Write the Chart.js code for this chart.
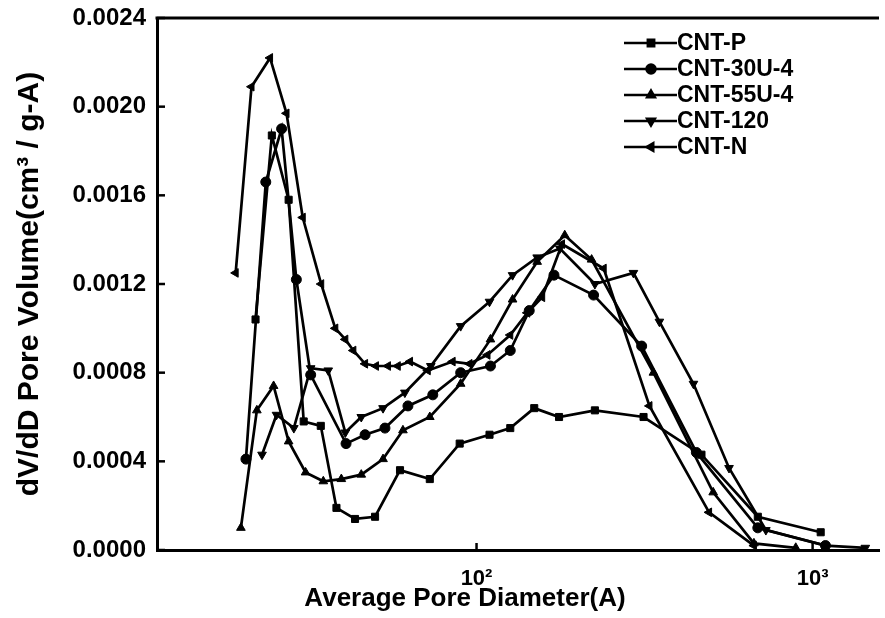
<!DOCTYPE html>
<html lang="en">
<head>
  <meta charset="UTF-8">
  <title>Pore Size Distribution</title>
  <script src="https://cdn.jsdelivr.net/npm/chart.js"></script>
  <style>
    body { margin: 0; background: #ffffff; }
    #wrap { width: 885px; height: 618px; }
  </style>
</head>
<body>
  <div id="wrap"><canvas id="poreChart" width="885" height="618"></canvas></div>

  <script>
    // data (x = average pore diameter in A, y = dV/dD)
    const seriesNames = ["CNT-P", "CNT-30U-4", "CNT-55U-4", "CNT-120", "CNT-N"];
    const markerStyles = ["rect", "circle", "triangle", "triangle", "triangle"];
    const markerRotation = [0, 0, 0, 180, 270];

    const pX = [22.0, 24.6, 27.6, 30.6, 34.4, 38.3, 43.5, 49.9, 59.2, 72.6, 89.1, 109.3, 126, 148.5, 176, 225, 314, 467, 687, 1057];
    const pY = [0.00104, 0.00187, 0.00158, 0.00058, 0.00056, 0.00019, 0.00014, 0.00015, 0.00036, 0.00032, 0.00048, 0.00052, 0.00055, 0.00064, 0.0006, 0.00063, 0.0006, 0.00043, 0.00015, 0.00008];

    const u30X = [20.6, 23.6, 26.3, 29.1, 32.1, 40.9, 46.6, 53.4, 62.5, 74.1, 89.7, 110, 126, 143.5, 170, 223, 310, 451, 687, 1092];
    const u30Y = [0.00041, 0.00166, 0.0019, 0.00122, 0.00079, 0.00048, 0.00052, 0.00055, 0.00065, 0.0007, 0.0008, 0.00083, 0.0009, 0.00108, 0.00124, 0.00115, 0.00092, 0.00044, 0.0001, 0.00002];

    const u55X = [19.9, 22.2, 24.9, 27.6, 31.0, 35.0, 39.6, 45.4, 52.7, 60.4, 72.6, 89.7, 110, 128, 151.5, 183, 220, 336, 506, 669, 891];
    const u55Y = [0.0001, 0.00063, 0.00074, 0.00049, 0.00035, 0.00031, 0.00032, 0.00034, 0.00041, 0.00054, 0.0006, 0.00075, 0.00095, 0.00113, 0.0013, 0.00142, 0.00131, 0.0008, 0.00026, 0.00003, 0.00001];

    const c120X = [23.0, 25.4, 28.6, 32.1, 36.2, 40.7, 45.4, 52.7, 61.2, 73.1, 89.7, 109.3, 128, 151.5, 177, 225, 293, 350, 442, 564, 726, 1092, 1435];
    const c120Y = [0.00043, 0.00061, 0.00055, 0.00082, 0.00081, 0.00053, 0.0006, 0.00064, 0.00071, 0.00083, 0.00101, 0.00112, 0.00124, 0.00132, 0.00136, 0.0012, 0.00125, 0.00103, 0.00075, 0.00037, 0.00009, 0.00002, 0.00001];

    const nX = [19.2, 21.4, 24.3, 27.2, 30.4, 34.5, 38.0, 40.7, 43.0, 46.6, 50.2, 54.5, 58.3, 63.4, 71.6, 84.9, 95.3, 107.8, 126, 141.6, 156.8, 179.6, 239, 327, 492, 669];
    const nY = [0.00125, 0.00209, 0.00222, 0.00197, 0.0015, 0.0012, 0.001, 0.00095, 0.0009, 0.00084, 0.00083, 0.00083, 0.00083, 0.00085, 0.00081, 0.00085, 0.00084, 0.00088, 0.00097, 0.00107, 0.00114, 0.00138, 0.00127, 0.00065, 0.00017, 0.00002];

    const xTicks = [100, 1000];
    const xTickLabels = ["10\u00B2", "10\u00B3"];
    const yTicks = [0, 0.0004, 0.0008, 0.0012, 0.0016, 0.0020, 0.0024];
    const xTitle = "Average Pore Diameter(A)";

    const allX = [pX, u30X, u55X, c120X, nX];
    const allY = [pY, u30Y, u55Y, c120Y, nY];

    const datasets = seriesNames.map((name, i) => ({
      label: name,
      data: allX[i].map((x, j) => ({ x: x, y: allY[i][j] })),
      borderColor: "#000",
      backgroundColor: "#000",
      borderWidth: 2.7,
      pointStyle: markerStyles[i],
      pointRotation: markerRotation[i],
      pointRadius: 5,
      pointBorderWidth: 1,
      tension: 0
    }));

    // inner tick marks, top frame line, x title and the legend
    const framePlugin = {
      id: "frame",
      afterDraw(chart) {
        const ctx = chart.ctx;
        const a = chart.chartArea;
        const xs = chart.scales.x, ys = chart.scales.y;
        ctx.save();
        ctx.strokeStyle = "#000";
        ctx.lineWidth = 3;
        ctx.beginPath();
        ctx.moveTo(a.left - 1.5, a.top);
        ctx.lineTo(a.right, a.top);
        ctx.stroke();
        ctx.lineWidth = 2.5;
        yTicks.forEach(v => {
          const py = ys.getPixelForValue(v);
          ctx.beginPath();
          ctx.moveTo(a.left, py);
          ctx.lineTo(a.left + 8, py);
          ctx.stroke();
        });
        xTicks.forEach(v => {
          const px = xs.getPixelForValue(v);
          ctx.beginPath();
          ctx.moveTo(px, a.bottom);
          ctx.lineTo(px, a.bottom - 7);
          ctx.stroke();
        });

        // x axis title (centred on the visible part of the original figure)
        ctx.fillStyle = "#000";
        ctx.font = "bold 26px 'Liberation Sans', Arial, sans-serif";
        ctx.textAlign = "center";
        ctx.textBaseline = "middle";
        ctx.fillText(xTitle, 465, 599);

        // legend
        ctx.textAlign = "left";
        ctx.font = "bold 23px 'Liberation Sans', Arial, sans-serif";
        const rowsY = [43, 69, 95, 121, 147];
        seriesNames.forEach((name, i) => {
          const y = rowsY[i];
          ctx.lineWidth = 2.5;
          ctx.beginPath();
          ctx.moveTo(624, y);
          ctx.lineTo(677, y);
          ctx.stroke();
          Chart.helpers.drawPoint(ctx, {
            pointStyle: markerStyles[i],
            rotation: markerRotation[i],
            radius: 4.5,
            borderWidth: 1
          }, 651, y);
          ctx.fill();
          ctx.fillText(name, 677, y + 1);
        });
        ctx.restore();
      }
    };

    new Chart(document.getElementById("poreChart").getContext("2d"), {
      type: "line",
      data: { datasets: datasets },
      plugins: [framePlugin],
      options: {
        responsive: false,
        animation: false,
        layout: { padding: { top: 18, right: 0, left: 0, bottom: 0 } },
        plugins: {
          legend: { display: false },
          tooltip: { enabled: false }
        },
        scales: {
          x: {
            type: "logarithmic",
            min: 11.2,
            max: 1576,
            afterBuildTicks: scale => {
              scale.ticks = xTicks.map(v => ({ value: v }));
            },
            afterFit: scale => { scale.height = 68; },
            grid: { display: false },
            border: { display: true, color: "#000", width: 3 },
            ticks: {
              color: "#000",
              font: { family: "'Liberation Sans', Arial", size: 22, weight: "bold" },
              padding: 8,
              maxRotation: 0,
              callback: v => xTickLabels[xTicks.indexOf(v)]
            },
            title: { display: false }
          },
          y: {
            min: 0,
            max: 0.0024,
            afterBuildTicks: scale => {
              scale.ticks = yTicks.map(v => ({ value: v }));
            },
            afterFit: scale => { scale.width = 157; },
            grid: { display: false },
            border: { display: true, color: "#000", width: 3 },
            ticks: {
              color: "#000",
              font: { family: "'Liberation Sans', Arial", size: 24, weight: "bold" },
              padding: 3,
              callback: v => v.toFixed(4)
            },
            title: {
              display: true,
              text: "dV/dD Pore Volume(cm\u00B3 / g-A)",
              color: "#000",
              font: { family: "'Liberation Sans', Arial", size: 30, weight: "bold" },
              padding: { top: 12, bottom: 0 }
            }
          }
        }
      }
    });
  </script>
</body>
</html>
